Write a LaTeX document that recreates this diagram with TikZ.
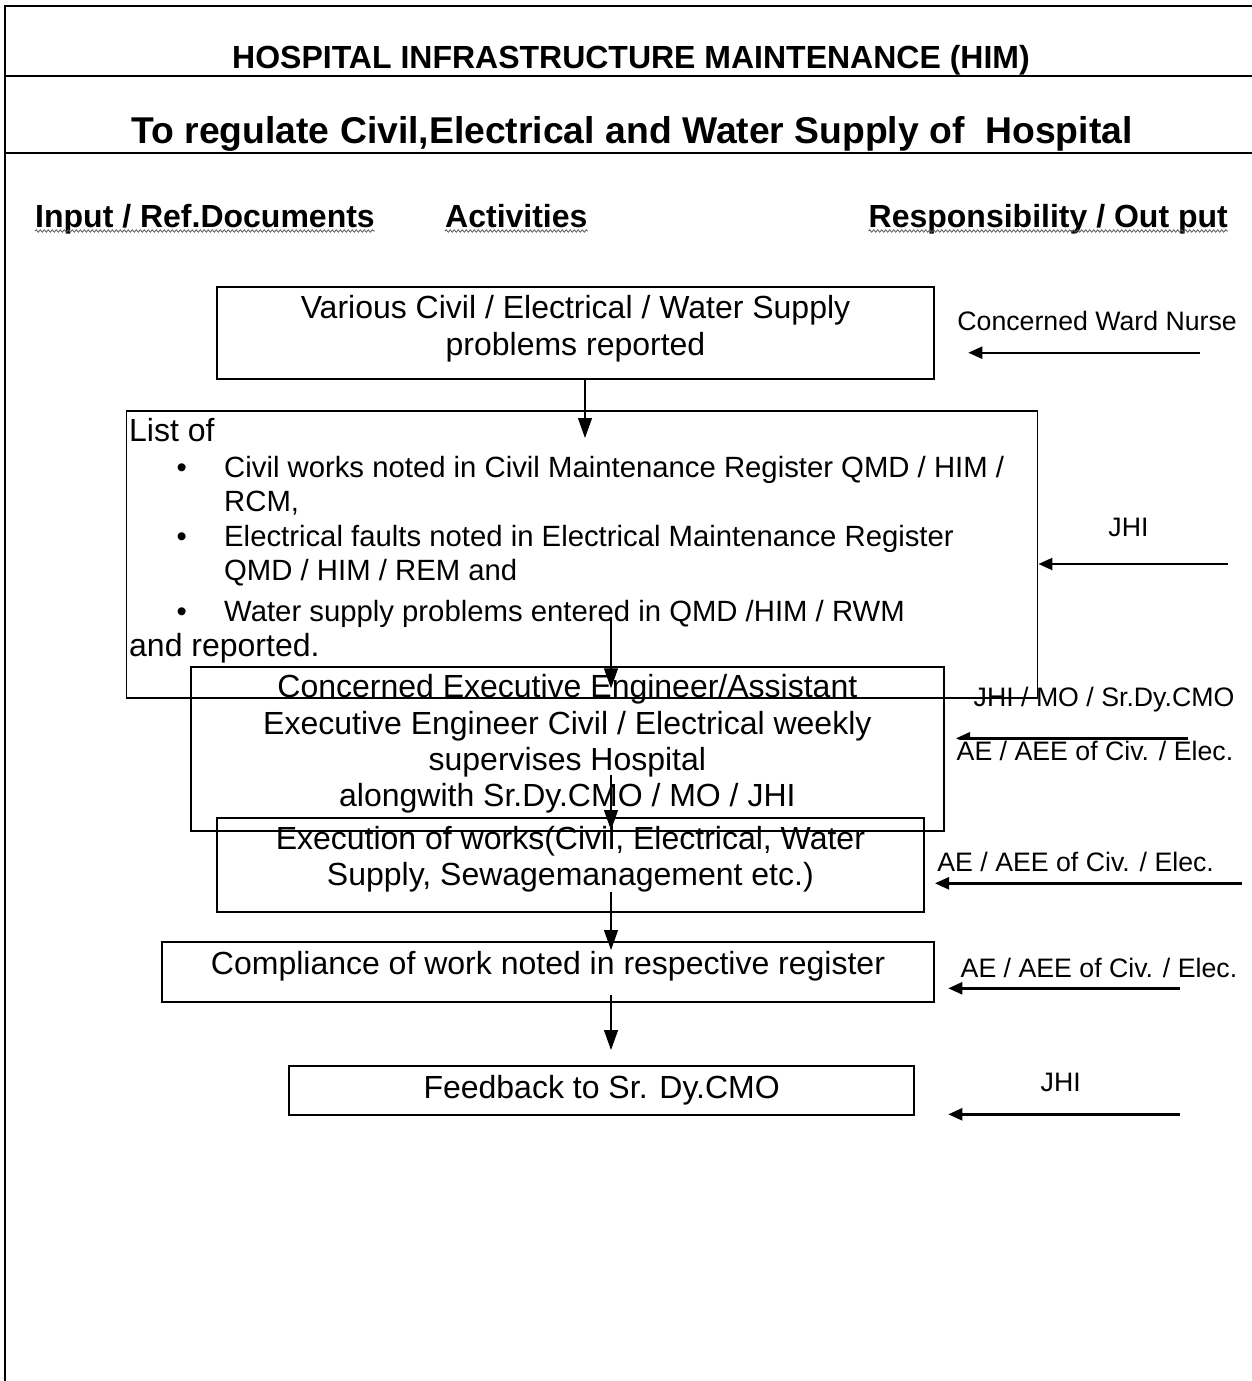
\documentclass[tikz,border=0pt]{standalone}
\usepackage{fontspec}
\setmainfont{Liberation Sans}
\usetikzlibrary{arrows.meta,decorations.pathmorphing}
\begin{document}
\begin{tikzpicture}[x=1pt,y=-1pt,
  frame/.style={line width=2pt},
  box/.style={draw, line width=1.8pt, inner sep=0pt, rectangle},
  body/.style={font=\fontsize{32}{36.8}\selectfont, inner sep=0pt, anchor=base},
  bodyl/.style={body, anchor=base west},
  item/.style={font=\fontsize{29.3}{33.7}\selectfont, inner sep=0pt, anchor=base west},
  dot/.style={item, anchor=base},
  head/.style={font=\fontsize{32}{36.8}\selectfont\bfseries, inner sep=0pt},
  side/.style={font=\fontsize{26.7}{30.7}\selectfont, inner sep=0.5pt, anchor=base west},
  vflow/.style={line width=1.3pt, -{Triangle[length=20pt,width=14pt]}},
  hflow/.style={line width=2.4pt, -{Triangle[length=14pt,width=12pt]}},
  squig/.style={draw=black!65, line width=0.8pt, decorate,
    decoration={snake, amplitude=1.2pt, segment length=4pt}}
]
\useasboundingbox (0,0) rectangle (1252,1381);

% outer frame and title rows
\draw[frame] (5,1381) -- (5,6) -- (1252,6);
\draw[frame] (5,76) -- (1252,76);
\draw[frame] (5,153) -- (1252,153);

\node[head, anchor=base] (t1) at (631,68.3) {HOSPITAL INFRASTRUCTURE MAINTENANCE (HIM)};
\node[head, font=\fontsize{37.3}{43}\selectfont\bfseries, anchor=base] (t2) at (632,143.3)
  {To regulate Civil,Electrical and Water Supply of\ \ Hospital};

% column headings
\node[head, anchor=base west] (h1) at (35,227) {Input / Ref.Documents};
\node[head, anchor=base west] (h2) at (445,227) {Activities};
\node[head, anchor=base east] (h3) at (1228,227) {Responsibility / Out put};
\foreach \h in {h1,h2,h3}
  \draw[squig] ([yshift=-4pt]\h.base west) -- ([yshift=-4pt]\h.base east);

% activity boxes
\node[box, minimum width=717.6pt, minimum height=92pt] (b1) at (575.5,333.3) {};
\node[box, line width=1.5pt, minimum width=911pt, minimum height=286.5pt] (b2) at (582.2,554.25) {};
\node[box, minimum width=753.3pt, minimum height=164pt] (b3) at (567.35,748.7) {};
\node[box, minimum width=707.3pt, minimum height=93.4pt] (b4) at (570.35,865) {};
\node[box, minimum width=772.6pt, minimum height=60.3pt] (b5) at (548,972.15) {};
\node[box, minimum width=625.3pt, minimum height=48.7pt] (b6) at (601.65,1090.35) {};

% box texts
\node[body] (b1a) at (575.5,318.3) {Various Civil / Electrical / Water Supply};
\node[body] (b1b) at (575.5,355.1) {problems reported};

\node[bodyl] (l0) at (129,441.7) {List of};
\node[dot] (d1) at (181.7,477) {•};
\node[item] (l1) at (224,477) {Civil works noted in Civil Maintenance Register QMD / HIM /};
\node[item] (l2) at (224,511.7) {RCM,};
\node[dot] (d2) at (181.7,546.7) {•};
\node[item] (l3) at (224,546.7) {Electrical faults noted in Electrical Maintenance Register};
\node[item] (l4) at (224,580) {QMD / HIM / REM and};
\node[dot] (d3) at (181.7,621.7) {•};
\node[item] (l5) at (224,621.7) {Water supply problems entered in QMD /HIM / RWM};
\node[bodyl] (l6) at (129,656.7) {and reported.};

\node[body] (b3a) at (567.35,697.8) {Concerned Executive Engineer/Assistant};
\node[body] (b3b) at (567.35,734.3) {Executive Engineer Civil / Electrical weekly};
\node[body] (b3c) at (567.35,770.5) {supervises Hospital};
\node[body] (b3d) at (567.35,806.7) {alongwith Sr.Dy.CMO / MO / JHI};

\node[body] (b4a) at (570.35,849.3) {Execution of works(Civil, Electrical, Water};
\node[body] (b4b) at (570.35,885) {Supply, Sewagemanagement etc.)};

\node[body] (b5a) at (548,974) {Compliance of work noted in respective register};
\node[body] (b6a) at (601.65,1098) {Feedback to Sr. Dy.CMO};

% flow between activities
\coordinate (ta) at (585,438);
\coordinate (sb) at (611,616.7);  \coordinate (tb) at (611,688.3);
\coordinate (sc) at (611,775);    \coordinate (tc) at (611,830);
\coordinate (sd) at (611,891.7);  \coordinate (td) at (611,950);
\coordinate (se) at (611,995);    \coordinate (te) at (611,1050);
\draw[vflow] (b1.south -| ta) -- (ta);
\draw[vflow] (sb) -- (tb);
\draw[vflow] (sc) -- (tc);
\draw[vflow] (sd) -- (td);
\draw[vflow] (se) -- (te);

% responsibility arrows
\coordinate (r1) at (1200,352.7);  \coordinate (e1) at (968.3,352.7);
\coordinate (r2) at (1228.3,564);
\coordinate (r3) at (1188.3,738.3); \coordinate (e3) at (956,738.3);
\coordinate (r4) at (1241.7,883.3); \coordinate (e4) at (935,883.3);
\coordinate (r5) at (1180,988.3);  \coordinate (e5) at (948.3,988.3);
\coordinate (r6) at (1180,1114.3); \coordinate (e6) at (948.3,1114.3);
\draw[hflow] (r1) -- (e1);
\draw[hflow] (r2) -- (r2 -| b2.east);
\draw[hflow] (r3) -- (e3);
\draw[hflow] (r4) -- (e4);
\draw[hflow] (r5) -- (e5);
\draw[hflow] (r6) -- (e6);

% responsibility labels
\node[side] (p1) at (956.7,330) {Concerned Ward Nurse};
\node[side] (p2) at (1107.7,536.7) {JHI};
\node[side] (p3) at (973,706.7) {JHI / MO / Sr.Dy.CMO};
\node[side, fill=white] (p4) at (956,760) {AE / AEE of Civ. / Elec.};
\node[side, fill=white] (p5) at (936.7,871.7) {AE / AEE of Civ. / Elec.};
\node[side] (p6) at (960,977.3) {AE / AEE of Civ. / Elec.};
\node[side] (p7) at (1040,1091.7) {JHI};

% the list box outline runs across the label beside it
\draw[line width=1.5pt] (b2.south west) -- (b2.south east);
\end{tikzpicture}
\end{document}
